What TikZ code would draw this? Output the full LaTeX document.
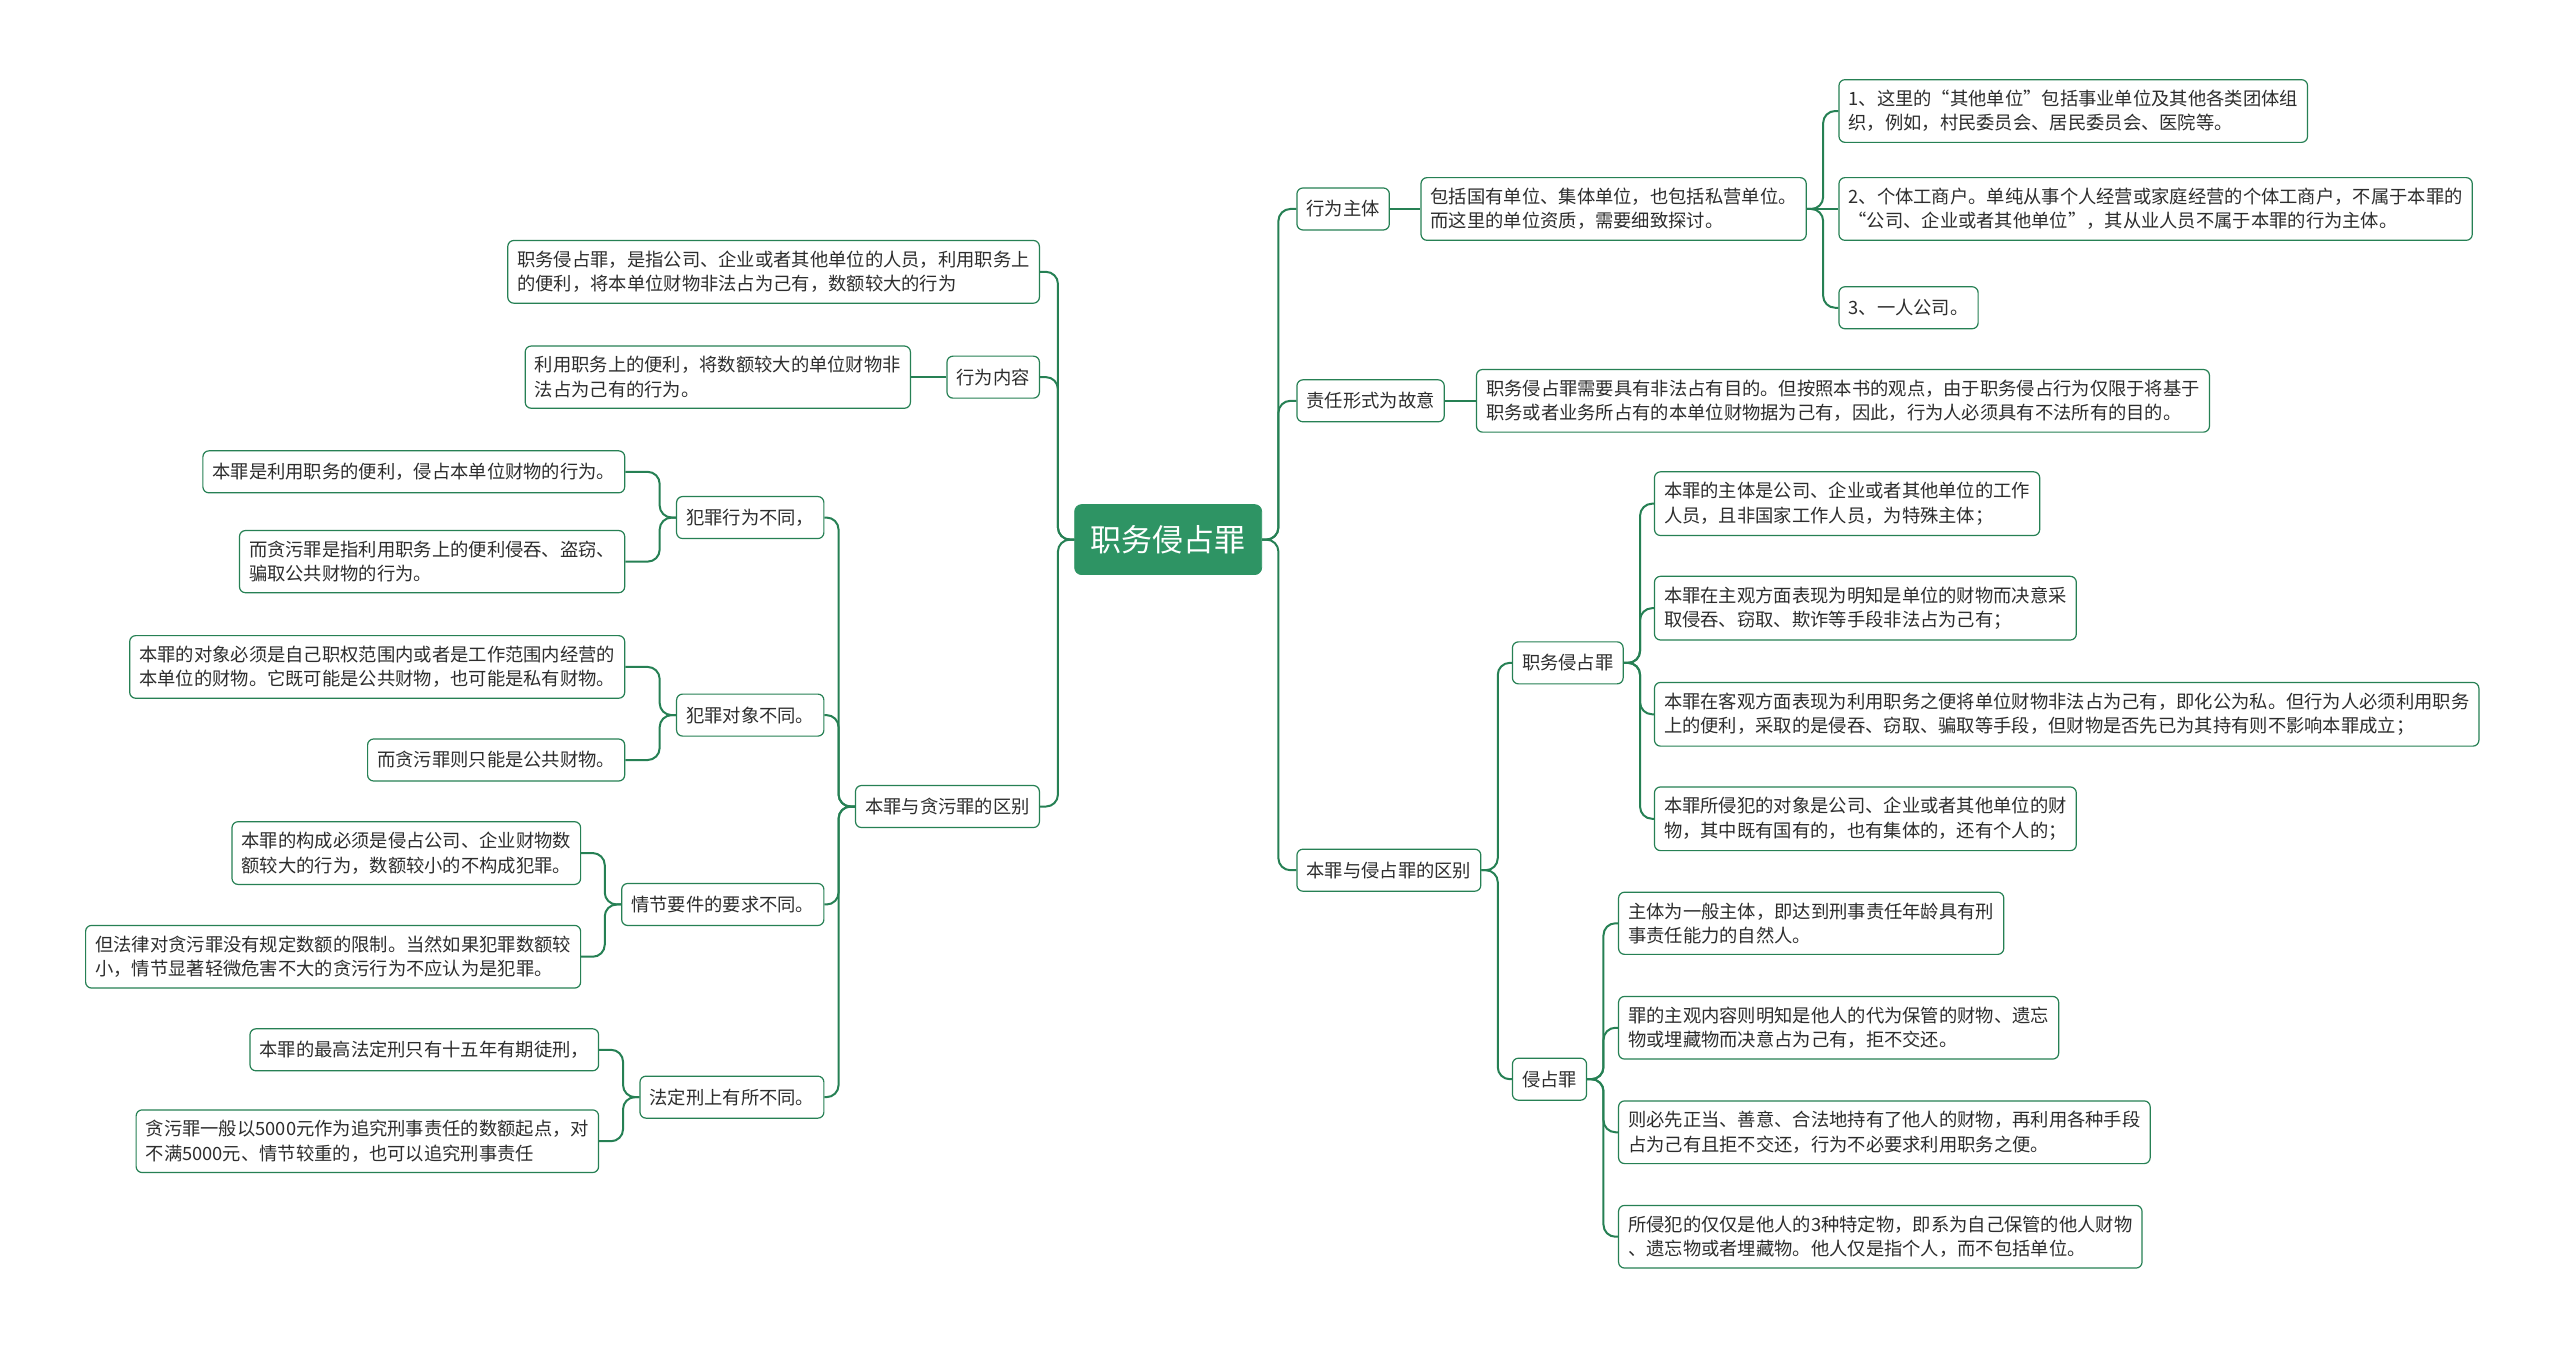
\documentclass[tikz,border=0pt]{standalone}
\usepackage{fontspec}
\usepackage{tikz}
\usetikzlibrary{positioning}
\newfontfamily\cjk{Noto Sans CJK SC}
\definecolor{mapg}{RGB}{46,148,100}
\definecolor{mapd}{RGB}{38,128,84}
\definecolor{txtc}{RGB}{45,45,45}
\tikzset{
  root/.style={rectangle,rounded corners=3.5pt,fill=mapg,draw=mapg,text=white,font=\cjk\fontsize{15.5pt}{18pt}\selectfont,inner xsep=8pt,minimum height=35pt},
  topic/.style={rectangle,rounded corners=3pt,draw=mapd,line width=0.6pt,fill=white,text=txtc,font=\cjk\fontsize{9.15pt}{12.2pt}\selectfont,align=left,inner xsep=4.8pt,inner ysep=5.2pt,minimum height=21pt},
  leaf/.style={topic},
  % tree edges: stub, trunk, rounded turn into the child
  link/.style={mapd,line width=1pt,rounded corners=6pt},
}
\begin{document}
\begin{tikzpicture}[x=0.8163pt,y=-0.8163pt]
  \useasboundingbox (0,0) rectangle (1568,825);
  \node[root] (root) at (715.5,330.5) {职务侵占罪};
  % ---- left: definition, conduct, vs. embezzlement ----
  \node[leaf,anchor=east] (defn) at (637,166.5) {职务侵占罪，是指公司、企业或者其他单位的人员，利用职务上\\的便利，将本单位财物非法占为己有，数额较大的行为};
  \node[topic,anchor=east] (conduct) at (637,231) {行为内容};
  \node[leaf,anchor=east] (conductTxt) at (558,231) {利用职务上的便利，将数额较大的单位财物非\\法占为己有的行为。};
  \node[topic,anchor=east] (vsEmb) at (637,494) {本罪与贪污罪的区别};
  \node[topic,anchor=east] (act) at (505,317) {犯罪行为不同，};
  \node[leaf,anchor=east] (act1) at (383,289) {本罪是利用职务的便利，侵占本单位财物的行为。};
  \node[leaf,anchor=east] (act2) at (383,344) {而贪污罪是指利用职务上的便利侵吞、盗窃、\\骗取公共财物的行为。};
  \node[topic,anchor=east] (obj) at (505,438) {犯罪对象不同。};
  \node[leaf,anchor=east] (obj1) at (383,408.5) {本罪的对象必须是自己职权范围内或者是工作范围内经营的\\本单位的财物。它既可能是公共财物，也可能是私有财物。};
  \node[leaf,anchor=east] (obj2) at (383,465.5) {而贪污罪则只能是公共财物。};
  \node[topic,anchor=east] (amt) at (505,554) {情节要件的要求不同。};
  \node[leaf,anchor=east] (amt1) at (356,522.5) {本罪的构成必须是侵占公司、企业财物数\\额较大的行为，数额较小的不构成犯罪。};
  \node[leaf,anchor=east] (amt2) at (356,586) {但法律对贪污罪没有规定数额的限制。当然如果犯罪数额较\\小，情节显著轻微危害不大的贪污行为不应认为是犯罪。};
  \node[topic,anchor=east] (pen) at (505,672) {法定刑上有所不同。};
  \node[leaf,anchor=east] (pen1) at (367,643) {本罪的最高法定刑只有十五年有期徒刑，};
  \node[leaf,anchor=east] (pen2) at (367,699) {贪污罪一般以5000元作为追究刑事责任的数额起点，对\\不满5000元、情节较重的，也可以追究刑事责任};
  % ---- right: subject, intent, vs. misappropriation ----
  \node[topic,anchor=west] (subj) at (794,128) {行为主体};
  \node[leaf,anchor=west] (subjTxt) at (870,128) {包括国有单位、集体单位，也包括私营单位。\\而这里的单位资质，需要细致探讨。};
  \node[leaf,anchor=west] (subj1) at (1126,68) {1、这里的“其他单位”包括事业单位及其他各类团体组\\织，例如，村民委员会、居民委员会、医院等。};
  \node[leaf,anchor=west] (subj2) at (1126,128) {2、个体工商户。单纯从事个人经营或家庭经营的个体工商户，不属于本罪的\\“公司、企业或者其他单位”，其从业人员不属于本罪的行为主体。};
  \node[leaf,anchor=west] (subj3) at (1126,188.5) {3、一人公司。};
  \node[topic,anchor=west] (intent) at (794,245.5) {责任形式为故意};
  \node[leaf,anchor=west] (intentTxt) at (904,245.5) {职务侵占罪需要具有非法占有目的。但按照本书的观点，由于职务侵占行为仅限于将基于\\职务或者业务所占有的本单位财物据为己有，因此，行为人必须具有不法所有的目的。};
  \node[topic,anchor=west] (vsInv) at (794,533) {本罪与侵占罪的区别};
  \node[topic,anchor=west] (post) at (926,406) {职务侵占罪};
  \node[leaf,anchor=west] (post1) at (1013,308.5) {本罪的主体是公司、企业或者其他单位的工作\\人员，且非国家工作人员，为特殊主体；};
  \node[leaf,anchor=west] (post2) at (1013,372.5) {本罪在主观方面表现为明知是单位的财物而决意采\\取侵吞、窃取、欺诈等手段非法占为己有；};
  \node[leaf,anchor=west] (post3) at (1013,437.5) {本罪在客观方面表现为利用职务之便将单位财物非法占为己有，即化公为私。但行为人必须利用职务\\上的便利，采取的是侵吞、窃取、骗取等手段，但财物是否先已为其持有则不影响本罪成立；};
  \node[leaf,anchor=west] (post4) at (1013,501.5) {本罪所侵犯的对象是公司、企业或者其他单位的财\\物，其中既有国有的，也有集体的，还有个人的；};
  \node[topic,anchor=west] (inv) at (926,661) {侵占罪};
  \node[leaf,anchor=west] (inv1) at (991,565.5) {主体为一般主体，即达到刑事责任年龄具有刑\\事责任能力的自然人。};
  \node[leaf,anchor=west] (inv2) at (991,629.5) {罪的主观内容则明知是他人的代为保管的财物、遗忘\\物或埋藏物而决意占为己有，拒不交还。};
  \node[leaf,anchor=west] (inv3) at (991,693.5) {则必先正当、善意、合法地持有了他人的财物，再利用各种手段\\占为己有且拒不交还，行为不必要求利用职务之便。};
  \node[leaf,anchor=west] (inv4) at (991,757.5) {所侵犯的仅仅是他人的3种特定物，即系为自己保管的他人财物\\、遗忘物或者埋藏物。他人仅是指个人，而不包括单位。};
  % ---- edges, left side ----
  \draw[link] (root.west) -- ++(-10,0) |- (defn.east);
  \draw[link] (root.west) -- ++(-10,0) |- (conduct.east);
  \draw[link] (root.west) -- ++(-10,0) |- (vsEmb.east);
  \draw[link] (conduct.west) -- (conductTxt.east);
  \draw[link] (vsEmb.west) -- ++(-10,0) |- (act.east); \draw[link] (vsEmb.west) -- ++(-10,0) |- (obj.east);
  \draw[link] (vsEmb.west) -- ++(-10,0) |- (amt.east); \draw[link] (vsEmb.west) -- ++(-10,0) |- (pen.east);
  \draw[link] (act.west) -- ++(-10,0) |- (act1.east); \draw[link] (act.west) -- ++(-10,0) |- (act2.east);
  \draw[link] (obj.west) -- ++(-10,0) |- (obj1.east); \draw[link] (obj.west) -- ++(-10,0) |- (obj2.east);
  \draw[link] (amt.west) -- ++(-10,0) |- (amt1.east); \draw[link] (amt.west) -- ++(-10,0) |- (amt2.east);
  \draw[link] (pen.west) -- ++(-10,0) |- (pen1.east); \draw[link] (pen.west) -- ++(-10,0) |- (pen2.east);
  % ---- edges, right side ----
  \draw[link] (root.east) -- ++(10,0) |- (subj.west);
  \draw[link] (root.east) -- ++(10,0) |- (intent.west);
  \draw[link] (root.east) -- ++(10,0) |- (vsInv.west);
  \draw[link] (subj.east) -- (subjTxt.west); \draw[link] (intent.east) -- (intentTxt.west);
  \draw[link] (subjTxt.east) -- ++(10,0) |- (subj1.west); \draw[link] (subjTxt.east) -- (subj2.west);
  \draw[link] (subjTxt.east) -- ++(10,0) |- (subj3.west);
  \draw[link] (vsInv.east) -- ++(10,0) |- (post.west); \draw[link] (vsInv.east) -- ++(10,0) |- (inv.west);
  \draw[link] (post.east) -- ++(10,0) |- (post1.west); \draw[link] (post.east) -- ++(10,0) |- (post2.west);
  \draw[link] (post.east) -- ++(10,0) |- (post3.west); \draw[link] (post.east) -- ++(10,0) |- (post4.west);
  \draw[link] (inv.east) -- ++(10,0) |- (inv1.west); \draw[link] (inv.east) -- ++(10,0) |- (inv2.west);
  \draw[link] (inv.east) -- ++(10,0) |- (inv3.west); \draw[link] (inv.east) -- ++(10,0) |- (inv4.west);
\end{tikzpicture}
\end{document}
